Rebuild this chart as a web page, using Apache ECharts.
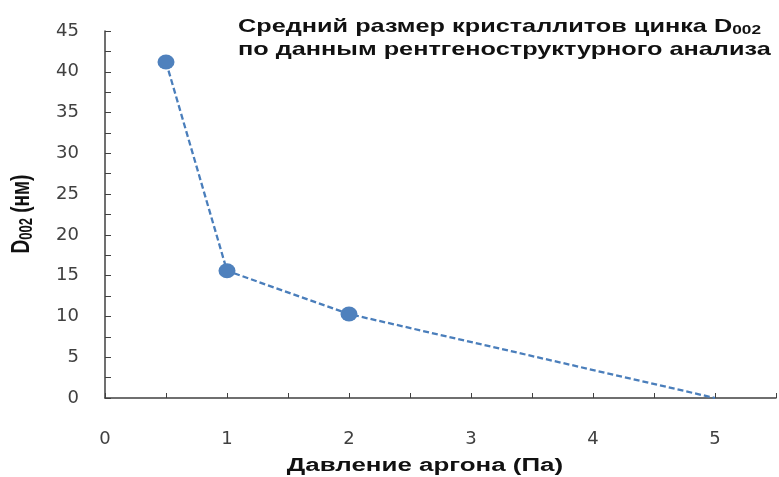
<!DOCTYPE html>
<html><head><meta charset="utf-8">
<script src="https://cdn.jsdelivr.net/npm/echarts@6/dist/echarts.min.js"></script>
<style>html,body{margin:0;padding:0;background:#fff}#c{width:779px;height:477px}</style>
</head><body><div id="c"></div>
<script>
const pressure = [0.5, 1, 2, 5];
const sizeD002 = [41.2, 15.6, 10.3, 0];
const xTicks = [0, 1, 2, 3, 4, 5];
const yTicks = [0, 5, 10, 15, 20, 25, 30, 35, 40, 45];
const titleLines = ['Средний размер кристаллитов цинка D{sub|002}', 'по данным рентгеноструктурного анализа'];
const xName = 'Давление аргона (Па)';
const yName = 'D{sub|002} (нм)';

const chart = echarts.init(document.getElementById('c'));
const data = pressure.map((p, i) => {
  const d = {value: [p, sizeD002[i]]};
  if (i === pressure.length - 1) d.symbol = 'none';
  return d;
});
const labelFont = {fontFamily: 'DejaVu Sans', fontSize: 18, color: '#404040'};
const subStyle = (fs) => ({fontFamily: 'Liberation Sans', fontSize: fs, fontWeight: 'bold', fill: '#111', padding: [7, 0, 0, 0]});
chart.setOption({
  animation: false,
  graphic: [
    {
      type: 'text', x: 238, y: 15, scaleX: 1.33, silent: true,
      style: {
        text: titleLines.join('\n'),
        font: 'bold 19px "Liberation Sans"', fill: '#111', lineHeight: 23,
        align: 'left', verticalAlign: 'top',
        rich: {sub: subStyle(13)}
      }
    },
    {
      type: 'text', x: 425, y: 466, scaleX: 1.44, silent: true,
      style: {text: xName, font: 'bold 18px "Liberation Sans"', fill: '#111', align: 'center', verticalAlign: 'middle'}
    },
    {
      type: 'text', x: 22, y: 214, rotation: Math.PI / 2, scaleY: 1.4, silent: true,
      style: {
        text: yName, font: 'bold 19px "Liberation Sans"', fill: '#111', align: 'center', verticalAlign: 'middle',
        rich: {sub: subStyle(13)}
      }
    }
  ],
  grid: {left: 105, right: 0, top: 31, bottom: 79, containLabel: false},
  xAxis: {
    type: 'value', min: 0, max: 5.5, interval: 1,
    axisLine: {show: true, lineStyle: {color: '#404040', width: 1.5}},
    axisTick: {show: true, inside: true, length: 5, lineStyle: {color: '#404040'}},
    minorTick: {show: true, splitNumber: 2, length: 5, lineStyle: {color: '#404040'}},
    splitLine: {show: false},
    axisLabel: Object.assign({margin: 32, formatter: v => xTicks.includes(v) ? String(v) : ''}, labelFont)
  },
  yAxis: {
    type: 'value', min: 0, max: 45, interval: 5,
    axisLine: {show: true, lineStyle: {color: '#404040', width: 1.5}},
    axisTick: {show: true, inside: true, length: 6, lineStyle: {color: '#404040'}},
    minorTick: {show: true, splitNumber: 2, length: 6, lineStyle: {color: '#404040'}},
    splitLine: {show: false},
    axisLabel: Object.assign({margin: 26, formatter: v => yTicks.includes(v) ? String(v) : ''}, labelFont)
  },
  series: [{
    type: 'line', data: data,
    symbol: 'circle', symbolSize: [17, 15],
    itemStyle: {color: '#4F81BD'},
    lineStyle: {color: '#4A7EBB', width: 2.3, type: [6, 3]}
  }]
});
</script></body></html>
